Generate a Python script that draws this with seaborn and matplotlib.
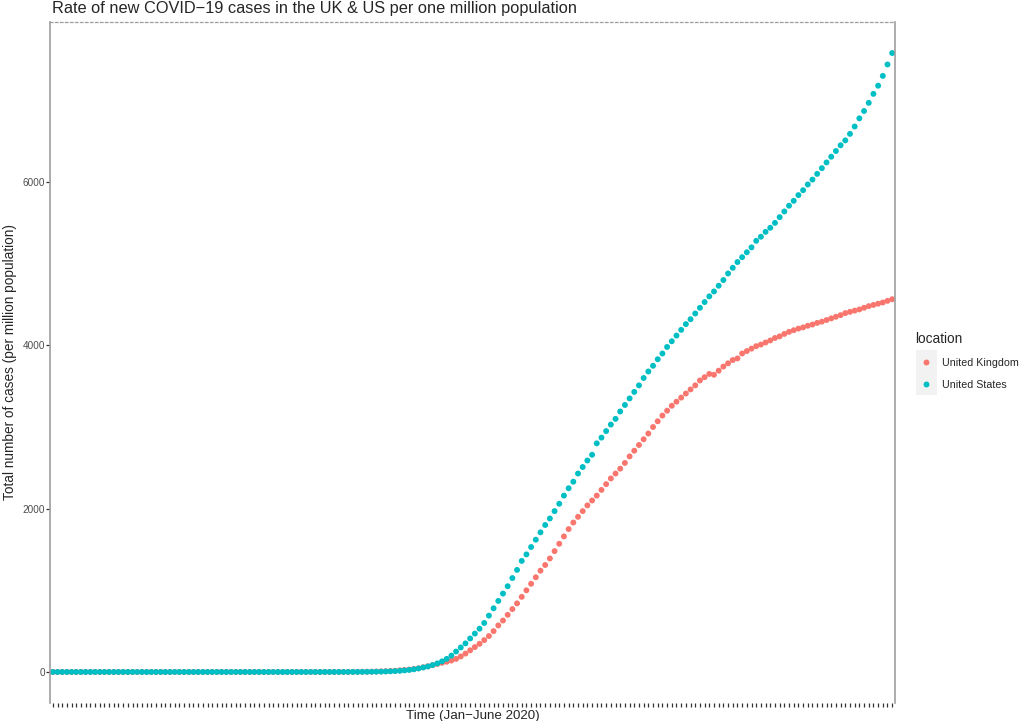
import matplotlib
matplotlib.use("Agg")
import matplotlib.pyplot as plt
import matplotlib.patches as mpatches
import seaborn as sns
import numpy as np
import pandas as pd

# daily series, 180 days starting 1 Jan 2020 (cases per million)
start_date = "2020-01-01"
n_days = 180

us_cases = [
    0, 0, 0, 0, 0, 0, 0, 0, 0, 0,
    0, 0, 0, 0, 0, 0, 0, 0, 0, 0,
    0, 0, 0, 0, 0, 0, 0, 0, 0, 0,
    0, 0, 0, 0, 0, 0, 0, 0, 0, 0,
    0, 0, 0, 0, 0, 0, 0, 0, 0, 0,
    0.1, 0.1, 0.1, 0.1, 0.1, 0.1, 0.1, 0.1, 0.2, 0.2,
    0.3, 0.4, 0.5, 0.6, 0.8, 1.1, 1.5, 2.0, 2.6, 3.4,
    4.5, 6, 8, 11, 14, 19, 25, 33, 43, 55,
    68, 85, 105, 130, 160, 200, 250, 300, 350, 410,
    470, 530, 600, 690, 780, 870, 960, 1050, 1150, 1250,
    1360, 1440, 1530, 1620, 1710, 1800, 1880, 1970, 2060, 2160,
    2250, 2330, 2430, 2510, 2590, 2660, 2800, 2870, 2950, 3030,
    3100, 3190, 3270, 3350, 3430, 3510, 3600, 3680, 3750, 3830,
    3900, 3980, 4050, 4120, 4190, 4260, 4320, 4390, 4460, 4530,
    4600, 4660, 4730, 4800, 4880, 4950, 5020, 5080, 5140, 5200,
    5280, 5330, 5390, 5440, 5500, 5570, 5640, 5710, 5770, 5840,
    5900, 5970, 6030, 6100, 6170, 6240, 6310, 6380, 6450, 6510,
    6590, 6680, 6780, 6870, 6970, 7080, 7180, 7300, 7440, 7580,
]

uk_cases = [
    0, 0, 0, 0, 0, 0, 0, 0, 0, 0,
    0, 0, 0, 0, 0, 0, 0, 0, 0, 0,
    0, 0, 0, 0, 0, 0, 0, 0, 0, 0,
    0, 0, 0, 0, 0, 0, 0, 0, 0, 0,
    0, 0, 0, 0, 0, 0, 0, 0, 0, 0,
    0, 0, 0, 0, 0, 0, 0.1, 0.1, 0.2, 0.2,
    0.3, 0.4, 0.6, 0.8, 1.2, 1.6, 2.2, 3, 4, 5.5,
    7, 9, 12, 15, 20, 25, 30, 37, 45, 58,
    70, 84, 98, 112, 125, 140, 160, 190, 225, 265,
    305, 345, 390, 440, 500, 570, 630, 700, 770, 840,
    920, 1000, 1080, 1160, 1240, 1310, 1390, 1480, 1570, 1660,
    1750, 1830, 1900, 1970, 2040, 2100, 2160, 2230, 2300, 2370,
    2430, 2490, 2560, 2640, 2710, 2780, 2850, 2920, 3000, 3070,
    3140, 3200, 3260, 3310, 3360, 3410, 3460, 3510, 3570, 3610,
    3650, 3640, 3690, 3740, 3780, 3820, 3840, 3900, 3930, 3960,
    3990, 4010, 4035, 4060, 4090, 4110, 4140, 4165, 4185, 4205,
    4220, 4240, 4255, 4275, 4290, 4310, 4330, 4350, 4370, 4395,
    4410, 4425, 4440, 4460, 4480, 4495, 4510, 4525, 4545, 4565,
]

locations = ["United Kingdom", "United States"]
colors = ["#F8766D", "#00BFC4"]

dates = pd.date_range(start_date, periods=n_days)
df = pd.DataFrame({
    "date": list(dates) * 2,
    "cases": uk_cases + us_cases,
    "location": [locations[0]] * n_days + [locations[1]] * n_days,
})

sns.set_style("white")
plt.rcParams['font.family'] = ['Liberation Sans', 'DejaVu Sans']

fig = plt.figure(figsize=(10.23, 7.21), dpi=100)
ax = fig.add_axes([50/1023, 1 - 703/721, 845/1023, 681/721])

sns.scatterplot(data=df, x="date", y="cases", hue="location", hue_order=locations,
                palette=colors, s=18, linewidth=0, ax=ax, legend=True)

ax.set_xlim(dates[0] - pd.Timedelta(days=0.6), dates[-1] + pd.Timedelta(days=0.6))
ax.set_ylim(-380, 7960)

ax.set_xticks(dates)
ax.set_xticklabels([])
ax.set_yticks([0, 2000, 4000, 6000])
ax.set_yticklabels(["0", "2000", "4000", "6000"], color="#4D4D4D", fontsize=7.2)
ax.tick_params(axis="both", which="major", direction="out", length=3, width=0.9,
               color="#333333", left=True, bottom=True, pad=0.5)

for s in ["left", "right"]:
    ax.spines[s].set_color("#9E9E9E")
    ax.spines[s].set_linewidth(1.2)
ax.spines["top"].set_color("#9E9E9E")
ax.spines["top"].set_linestyle((0, (2, 2)))
ax.spines["top"].set_linewidth(0.9)
ax.spines["bottom"].set_visible(False)

ax.set_xlabel("Time (Jan\u2212June 2020)", fontsize=9.6)
ax.xaxis.set_label_coords(0.5, -(716 - 703) / 681, transform=ax.transAxes)
ax.xaxis.label.set_va("center")
ax.set_ylabel("Total number of cases (per million population)", fontsize=9.8)
ax.yaxis.set_label_coords(-(50 - 10) / 845, 0.5, transform=ax.transAxes)
ax.yaxis.label.set_va("center")
fig.text(52/1023, 1 - 9/721, "Rate of new COVID\u221219 cases in the UK & US per one million population",
         fontsize=11.8, ha="left", va="center")

# legend (outside right, ggplot style)
handles, labels = ax.get_legend_handles_labels()
ax.get_legend().remove()
key_bg = mpatches.Rectangle((916/1023, 1 - 395/721), 21/1023, 45/721,
                            transform=fig.transFigure, facecolor="#F2F2F2",
                            edgecolor="none", zorder=-1)
fig.patches.append(key_bg)
leg = fig.legend(handles, labels, title="location", loc="upper left",
                 bbox_to_anchor=(915/1023, 1 - 332/721),
                 frameon=False, fontsize=7.7, title_fontsize=9.8, borderpad=0,
                 borderaxespad=0, handletextpad=0.55, labelspacing=1.1, markerscale=1.0,
                 handlelength=2.0)
leg._legend_box.align = "left"

fig.savefig("out.png", dpi=100)
